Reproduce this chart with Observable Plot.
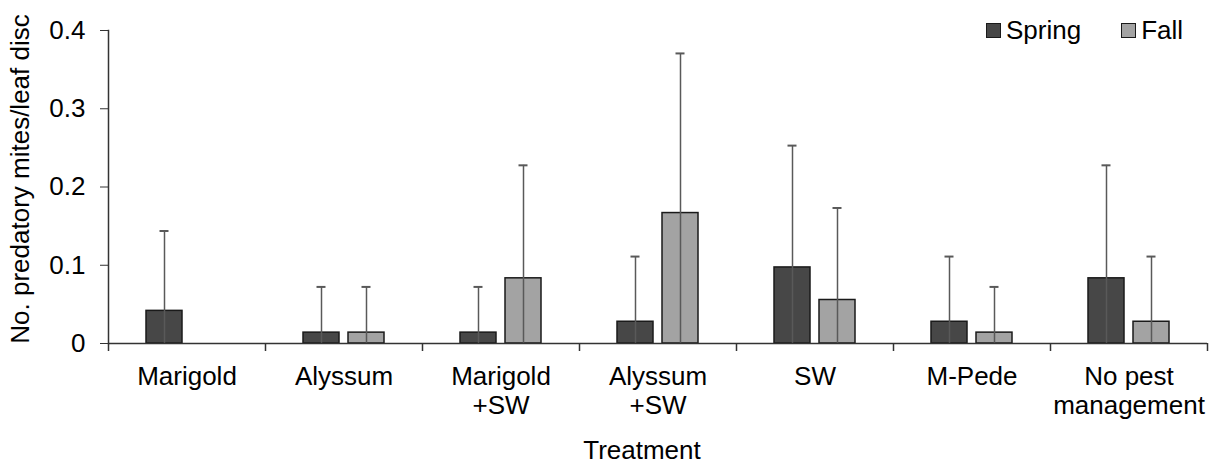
<!DOCTYPE html>
<html><head><meta charset="utf-8">
<script src="https://cdn.jsdelivr.net/npm/d3@7"></script>
<script src="https://cdn.jsdelivr.net/npm/@observablehq/plot@0.6"></script>
<style>
body{margin:0;background:#fff;font-family:"Liberation Sans",Arial,sans-serif}
#wrap{position:relative;width:1211px;height:464px}
#legend{position:absolute;left:986px;top:15px;font-size:26px;color:#000;display:flex;align-items:center}
#legend .item{display:flex;align-items:center;margin-right:40px}
#legend .item:last-child{margin-right:0}
#legend .sw{width:13px;height:13px;border:1.5px solid #1a1a1a;margin-right:5px}
</style></head><body><div id="wrap"><div id="legend"></div></div>
<script>
const treatments = ["Marigold","Alyssum","Marigold\n+SW","Alyssum\n+SW","SW","M-Pede","No pest\nmanagement"];
const seasons = ["Spring","Fall"];
const springMean = [0.0417,0.0139,0.0139,0.0278,0.0972,0.0278,0.0833];
const springErr  = [0.1021,0.0584,0.0584,0.0833,0.1557,0.0833,0.1444];
const fallMean   = [null,0.0139,0.0833,0.1667,0.0556,0.0139,0.0278];
const fallErr    = [null,0.0584,0.1444,0.2040,0.1176,0.0584,0.0833];
const yTicks = [0,0.1,0.2,0.3,0.4];
const colors = {Spring:"#474747", Fall:"#a3a3a3"};

const rows = [];
treatments.forEach((t,i)=>{
  if (springMean[i]!=null) rows.push({treatment:t, season:"Spring", mean:springMean[i], err:springErr[i]});
  if (fallMean[i]!=null) rows.push({treatment:t, season:"Fall", mean:fallMean[i], err:fallErr[i]});
});
const spring = rows.filter(d=>d.season==="Spring");
const fall = rows.filter(d=>d.season==="Fall");
const errTop = d=>d.mean+d.err;

const W=1211,H=464,ML=108,MR=4,MT=30,MB=121;
const band=(W-ML-MR)/treatments.length; // 157
const barW=36, gap=9, outer=(band-2*barW-gap)/2;
const off=(barW+gap)/2, cap=9;
const axisColor="#333";

const chart = Plot.plot({
  width:W, height:H, marginLeft:ML, marginRight:MR, marginTop:MT, marginBottom:MB,
  style:{fontSize:"26px", fontFamily:'"Liberation Sans",Arial,sans-serif', color:"#000", background:"#fff"},
  x:{domain:treatments, padding:0, axis:null},
  y:{domain:[0,0.4], axis:null},
  marks:[
    Plot.barY(spring,{x:"treatment", y:"mean", fill:colors.Spring, stroke:"#1a1a1a", strokeWidth:1.5, insetLeft:outer, insetRight:outer+barW+gap}),
    Plot.barY(fall,{x:"treatment", y:"mean", fill:colors.Fall, stroke:"#1a1a1a", strokeWidth:1.5, insetLeft:outer+barW+gap, insetRight:outer}),
    Plot.ruleX(spring,{x:"treatment", dx:-off, y1:0, y2:errTop, stroke:"#595959", strokeWidth:1.5}),
    Plot.ruleX(fall,{x:"treatment", dx:off, y1:0, y2:errTop, stroke:"#595959", strokeWidth:1.5}),
    Plot.tickY(spring,{x:"treatment", y:errTop, stroke:"#595959", strokeWidth:2, insetLeft:band/2-off-cap/2, insetRight:band/2+off-cap/2}),
    Plot.tickY(fall,{x:"treatment", y:errTop, stroke:"#595959", strokeWidth:2, insetLeft:band/2+off-cap/2, insetRight:band/2-off-cap/2}),
    Plot.ruleY([0],{stroke:axisColor, strokeWidth:1.5}),
    Plot.frame({anchor:"left", stroke:axisColor, strokeWidth:1.5}),
    Plot.ruleX(treatments,{x:d=>d, dx:-band/2, y1:0, y2:0, insetBottom:-8, stroke:axisColor, strokeWidth:1.5}),
    Plot.ruleX([treatments[treatments.length-1]],{x:d=>d, dx:band/2, y1:0, y2:0, insetBottom:-8, stroke:axisColor, strokeWidth:1.5}),
    Plot.axisY({ticks:yTicks, tickFormat:d=>d===0?"0":d.toFixed(1), tickSize:8, tickPadding:15, label:null, stroke:axisColor, fill:"#000"}),
    Plot.axisX({tickSize:0, tickPadding:21, label:null, lineHeight:1.12, fill:"#000"}),
    Plot.text(["No. predatory mites/leaf disc"],{frameAnchor:"left", textAnchor:"middle", rotate:-90, dx:-88, dy:-8, fill:"#000"}),
    Plot.text(["Treatment"],{frameAnchor:"bottom", dx:-16, dy:115, fill:"#000"})
  ]
});
document.getElementById("wrap").prepend(chart);

const legend = document.getElementById("legend");
seasons.forEach(s=>{
  const it=document.createElement("div"); it.className="item";
  const sw=document.createElement("div"); sw.className="sw"; sw.style.background=colors[s];
  const tx=document.createElement("span"); tx.textContent=s;
  it.append(sw,tx); legend.append(it);
});
</script></body></html>
